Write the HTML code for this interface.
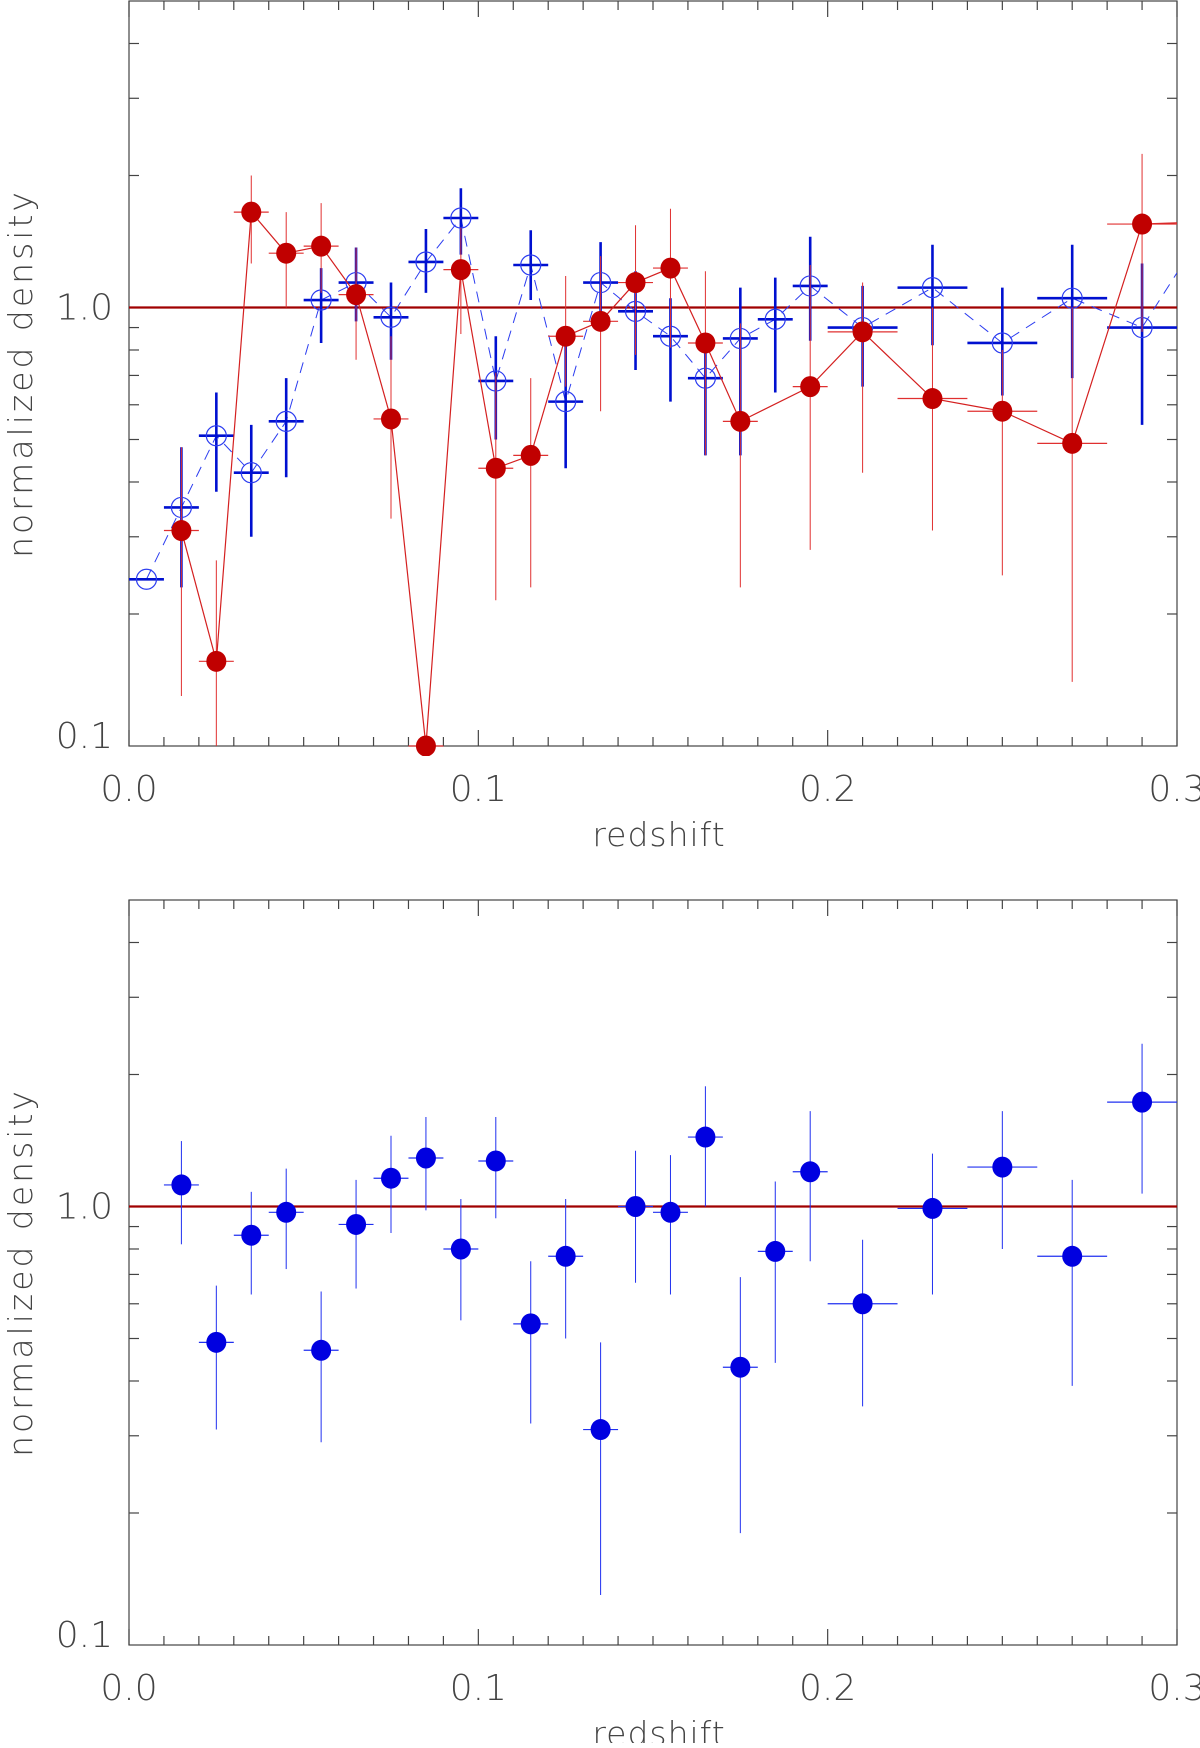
<!DOCTYPE html>
<html><head><meta charset="utf-8"><style>
html,body{margin:0;padding:0;background:#fff}
svg text{font-family:"DejaVu Sans","Liberation Sans",sans-serif;fill:#444;font-weight:300}
</style></head><body>
<svg id="fig" width="1200" height="1743" viewBox="0 0 1200 1743" xmlns="http://www.w3.org/2000/svg"></svg>
<script>
// ---- data ----
const redX = [0.015,0.025,0.035,0.045,0.055,0.065,0.075,0.085,0.095,0.105,0.115,0.125,0.135,0.145,0.155,0.165,0.175,0.195,0.21,0.23,0.25,0.27,0.29];
const redXerr = [0.005,0.005,0.005,0.005,0.005,0.005,0.005,0.005,0.005,0.005,0.005,0.005,0.005,0.005,0.005,0.005,0.005,0.005,0.01,0.01,0.01,0.01,0.01];
const redY = [0.31,0.156,1.65,1.33,1.38,1.07,0.557,0.099,1.22,0.43,0.46,0.86,0.93,1.14,1.23,0.83,0.55,0.66,0.88,0.62,0.58,0.49,1.55];
const redHi = [0.48,0.265,2.0,1.65,1.73,1.37,0.86,0.099,1.52,0.71,0.69,1.18,1.31,1.54,1.68,1.21,0.92,1.25,1.14,1.0,0.8,1.0,2.24];
const redLo = [0.13,0.1,1.26,1.0,1.08,0.76,0.33,0.099,0.87,0.215,0.23,0.66,0.58,0.78,0.81,0.46,0.23,0.28,0.42,0.31,0.245,0.14,0.88];
const redEnd = 1.56;

const hollowX = [0.005,0.015,0.025,0.035,0.045,0.055,0.065,0.075,0.085,0.095,0.105,0.115,0.125,0.135,0.145,0.155,0.165,0.175,0.185,0.195,0.21,0.23,0.25,0.27,0.29];
const hollowXerr = [0.005,0.005,0.005,0.005,0.005,0.005,0.005,0.005,0.005,0.005,0.005,0.005,0.005,0.005,0.005,0.005,0.005,0.005,0.005,0.005,0.01,0.01,0.01,0.01,0.01];
const hollowY = [0.24,0.35,0.51,0.42,0.55,1.04,1.14,0.95,1.27,1.6,0.68,1.25,0.61,1.14,0.98,0.86,0.69,0.85,0.94,1.12,0.9,1.11,0.83,1.05,0.9];
const hollowHi = [0.24,0.48,0.64,0.54,0.69,1.23,1.37,1.14,1.51,1.87,0.86,1.5,0.87,1.41,1.21,1.05,0.84,1.11,1.17,1.45,1.12,1.39,1.11,1.39,1.26];
const hollowLo = [0.24,0.23,0.38,0.3,0.41,0.83,0.93,0.76,1.08,1.32,0.5,1.04,0.43,0.92,0.72,0.61,0.46,0.46,0.64,0.84,0.66,0.82,0.63,0.69,0.54];
const hollowEnd = 1.2;

const botX = [0.015,0.025,0.035,0.045,0.055,0.065,0.075,0.085,0.095,0.105,0.115,0.125,0.135,0.145,0.155,0.165,0.175,0.185,0.195,0.21,0.23,0.25,0.27,0.29];
const botXerr = [0.005,0.005,0.005,0.005,0.005,0.005,0.005,0.005,0.005,0.005,0.005,0.005,0.005,0.005,0.005,0.005,0.005,0.005,0.005,0.01,0.01,0.01,0.01,0.01];
const botY = [1.12,0.49,0.86,0.97,0.47,0.91,1.16,1.29,0.80,1.27,0.54,0.77,0.31,1.0,0.97,1.44,0.43,0.79,1.2,0.60,0.99,1.23,0.77,1.73];
const botHi = [1.41,0.66,1.08,1.22,0.64,1.15,1.45,1.6,1.04,1.6,0.75,1.04,0.49,1.34,1.31,1.88,0.69,1.14,1.65,0.84,1.32,1.65,1.15,2.35];
const botLo = [0.82,0.31,0.63,0.72,0.29,0.65,0.87,0.98,0.55,0.94,0.32,0.5,0.13,0.67,0.63,1.0,0.18,0.44,0.75,0.35,0.63,0.8,0.39,1.07];

const xTicks = [0.0,0.1,0.2,0.3];
const xTickLabels = ["0.0","0.1","0.2","0.3"];
const yTicks = [0.1,1.0];
const yTickLabels = ["0.1","1.0"];

// ---- drawing ----
const NS="http://www.w3.org/2000/svg";
const svg=document.getElementById('fig');
function mk(tag,attrs,parent){const e=document.createElementNS(NS,tag);for(const k in attrs)e.setAttribute(k,attrs[k]);(parent||svg).appendChild(e);return e;}
const L=129,R=1177,XMAX=0.3,YMIN=0.1,YMAX=5;
function makePanel(top,bottom,name){
  const g=mk('g',{});
  
  
  const sx=v=>L+(v/XMAX)*(R-L);
  const sy=v=>{const c=Math.max(YMIN,v);return bottom-(Math.log10(c)-Math.log10(YMIN))/(Math.log10(YMAX)-Math.log10(YMIN))*(bottom-top);};
  const frame=mk('rect',{x:L,y:top,width:R-L,height:bottom-top,fill:'none',stroke:'#444','stroke-width':1.2},g);
  
  
  for(let i=0;i<=30;i++){const v=i*0.01,x=sx(v),len=(i%10===0)?16:9;
    mk('line',{x1:x,y1:bottom,x2:x,y2:bottom-len,stroke:'#444','stroke-width':1.2},g);
    mk('line',{x1:x,y1:top,x2:x,y2:top+len,stroke:'#444','stroke-width':1.2},g);}
  const yt=[0.2,0.3,0.4,0.5,0.6,0.7,0.8,0.9,1,2,3,4];
  yt.forEach(v=>{const y=sy(v),len=(v===1)?18:10;
    mk('line',{x1:L,y1:y,x2:L+len,y2:y,stroke:'#444','stroke-width':1.2},g);
    mk('line',{x1:R,y1:y,x2:R-len,y2:y,stroke:'#444','stroke-width':1.2},g);});
  xTicks.forEach((v,i)=>{const t=mk('text',{x:sx(v),y:bottom+55,'text-anchor':'middle','font-size':36},g);t.textContent=xTickLabels[i];
    
    });
  yTicks.forEach((v,i)=>{const t=mk('text',{x:113,y:sy(v)+(v===YMIN?2:12),'text-anchor':'end','font-size':36},g);t.textContent=yTickLabels[i];
    
    });
  const xt=mk('text',{x:(L+R)/2+6,y:bottom+100,'text-anchor':'middle','font-size':33,'letter-spacing':'1'},g);xt.textContent='redshift';
  
  
  const cy=(top+bottom)/2+0;
  const yl=mk('text',{x:0,y:0,'text-anchor':'middle','font-size':33,'letter-spacing':'3',transform:`translate(32,${cy}) rotate(-90)`},g);yl.textContent='normalized density';
  
  
  const ref=mk('line',{x1:L,y1:sy(1),x2:R,y2:sy(1),stroke:'#a00000','stroke-width':2.2},g);
  
  
  return {g,sx,sy};
}
function clip(id,top,bottom){const d=mk('clipPath',{id});mk('rect',{x:L,y:top-2,width:R-L,height:bottom-top+12},d);}

const P1=makePanel(1,746,'top-panel');
clip('c1',1,746);
const s1=mk('g',{'clip-path':'url(#c1)'},P1.g);
let pts=hollowX.map((x,i)=>P1.sx(x)+','+P1.sy(hollowY[i]));pts.push(P1.sx(0.3)+','+P1.sy(hollowEnd));
const bl=mk('polyline',{points:pts.join(' '),fill:'none',stroke:'#2b3cf0','stroke-width':1,'stroke-dasharray':'11,8'},s1);


hollowX.forEach((x,i)=>{
  const c=P1.sx(x),y=P1.sy(hollowY[i]);
  const e=mk('g',{},s1);
  
  
  if(hollowHi[i]!==hollowLo[i]) mk('line',{x1:c,y1:P1.sy(hollowHi[i]),x2:c,y2:P1.sy(hollowLo[i]),stroke:'#0010d0','stroke-width':2.6},e);
  mk('line',{x1:P1.sx(x-hollowXerr[i]),y1:y,x2:P1.sx(x+hollowXerr[i]),y2:y,stroke:'#0010d0','stroke-width':2.6},e);
  mk('circle',{cx:c,cy:y,r:10,fill:'none',stroke:'#2b3cf0','stroke-width':1.2},e);
});
pts=redX.map((x,i)=>P1.sx(x)+','+P1.sy(redY[i]));pts.push(P1.sx(0.3)+','+P1.sy(redEnd));
const rl=mk('polyline',{points:pts.join(' '),fill:'none',stroke:'#d42020','stroke-width':1.2},s1);


redX.forEach((x,i)=>{
  const c=P1.sx(x),y=P1.sy(redY[i]);
  const e=mk('g',{},s1);
  
  
  if(redHi[i]!==redLo[i]) mk('line',{x1:c,y1:P1.sy(redHi[i]),x2:c,y2:P1.sy(redLo[i]),stroke:'#e03030','stroke-width':1},e);
  mk('line',{x1:P1.sx(x-redXerr[i]),y1:y,x2:P1.sx(x+redXerr[i]),y2:y,stroke:'#e03030','stroke-width':1.2},e);
  mk('ellipse',{cx:c,cy:y,rx:10,ry:10.5,fill:'#c00000'},e);
});

const P2=makePanel(900,1645,'bottom-panel');
clip('c2',900,1645);
const s2=mk('g',{'clip-path':'url(#c2)'},P2.g);
botX.forEach((x,i)=>{
  const c=P2.sx(x),y=P2.sy(botY[i]);
  const e=mk('g',{},s2);
  
  
  mk('line',{x1:c,y1:P2.sy(botHi[i]),x2:c,y2:P2.sy(botLo[i]),stroke:'#2030f0','stroke-width':1},e);
  mk('line',{x1:P2.sx(x-botXerr[i]),y1:y,x2:P2.sx(x+botXerr[i]),y2:y,stroke:'#2030f0','stroke-width':1.2},e);
  mk('ellipse',{cx:c,cy:y,rx:10,ry:10.5,fill:'#0000e0'},e);
});
</script>
</body></html>
